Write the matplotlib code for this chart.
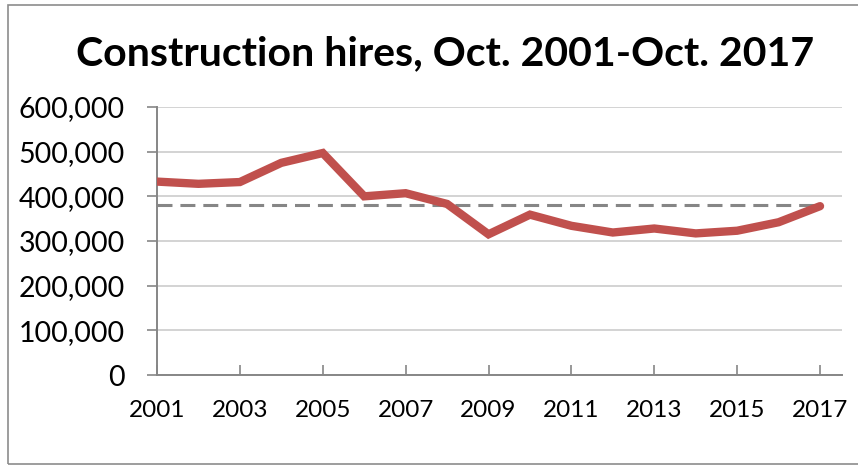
import matplotlib
matplotlib.use('Agg')
import matplotlib.pyplot as plt
from matplotlib.patches import Rectangle
from matplotlib.ticker import FuncFormatter, MultipleLocator

# construction hires, October of each year
years = [2001, 2002, 2003, 2004, 2005, 2006, 2007, 2008, 2009,
         2010, 2011, 2012, 2013, 2014, 2015, 2016, 2017]
hires = [433000, 428000, 432000, 475000, 497000, 400000, 407000, 383000, 315000,
         359000, 334000, 319000, 328000, 317000, 323000, 342000, 378000]
ref_level = 380000
title = 'Construction hires, Oct. 2001-Oct. 2017'

plt.rcParams['font.family'] = ['Lato', 'DejaVu Sans']

fig = plt.figure(figsize=(8.58, 4.66), dpi=100)
fig.patches.append(Rectangle((8/858, 2/466), 2, 459/466, transform=fig.transFigure,
                             fill=False, edgecolor='#8c8c8c', linewidth=1.2))

ax = fig.add_axes([157/858, 1-375/466, 685/858, 268/466])
ax.plot(years, [ref_level]*len(years), color='#868686', linestyle=(0, (4.9, 2.6)),
        linewidth=2.2, zorder=2)
ax.plot(years, hires, color='#C0504D', linewidth=6, solid_capstyle='round',
        solid_joinstyle='miter', zorder=3)

ax.set_xlim(2001, 2017.53)
ax.set_ylim(0, 600000)
ax.yaxis.set_major_locator(MultipleLocator(100000))
ax.yaxis.set_major_formatter(FuncFormatter(lambda v, p: f'{int(v):,}'))
ax.set_xticks(range(2001, 2018, 2))
ax.grid(axis='y', color='#d0d0d0', linewidth=1.3, zorder=0)
ax.set_axisbelow(True)

for s in ['top', 'right']:
    ax.spines[s].set_visible(False)
for s in ['left', 'bottom']:
    ax.spines[s].set_color('#868686')
    ax.spines[s].set_linewidth(1.4)

ax.tick_params(axis='y', direction='out', length=7, width=1.2, color='#868686',
               labelsize=20.5, pad=16)
ax.tick_params(axis='x', direction='in', length=7, width=1.2, color='#868686',
               labelsize=17.5, pad=18)

fig.text(0.519, 1-65/466, title, ha='center', va='baseline',
         fontsize=29.5, fontweight='bold')

fig.savefig('out.png', dpi=100)
